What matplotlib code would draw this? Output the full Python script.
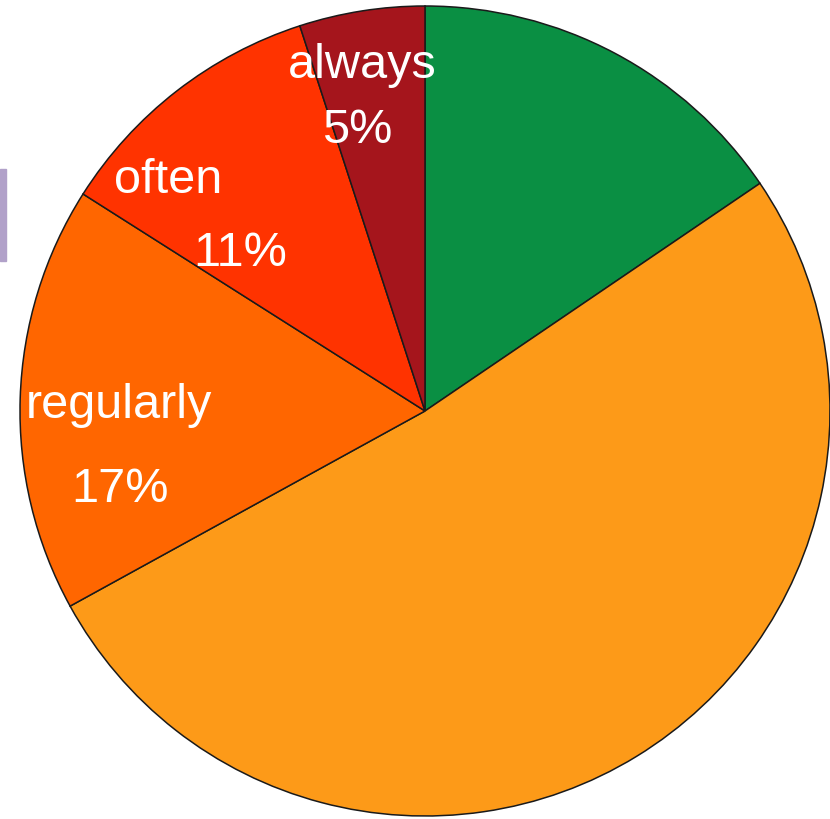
import matplotlib.pyplot as plt
from matplotlib.patches import Rectangle
import numpy as np

# Share of answers per frequency, clockwise from 12 o'clock
categories = ["never", "sometimes", "regularly", "often", "always"]
shares = [15.5, 51.5, 17, 11, 5]
colors = ["#0A8F43", "#FD9A18", "#FF6600", "#FF3300", "#A5151C"]

# Labelled slices: name, percent text
label_names = ["regularly", "often", "always"]
label_pcts = ["17%", "11%", "5%"]

# Label placement as (angle clockwise from top in degrees, fraction of radius)
name_pos = [(271.3, 0.756), (312.0, 0.853), (349.7, 0.869)]
pct_pos = [(255.7, 0.777), (310.7, 0.602), (346.4, 0.714)]

W, H = 830, 820
cx, cy, R = 425, 408, 405

fig = plt.figure(figsize=(W / 100, H / 100), dpi=100)
ax = fig.add_axes([0, 0, 1, 1])

ax.pie(shares, colors=colors, startangle=90, counterclock=False,
       center=(cx, cy), radius=R,
       wedgeprops=dict(edgecolor="#1a1a1a", linewidth=1.1))

ax.set_xlim(0, W)
ax.set_ylim(0, H)
ax.set_aspect("equal")
ax.axis("off")


def polar(angle, frac):
    a = np.deg2rad(angle)
    return cx + frac * R * np.sin(a), cy + frac * R * np.cos(a)


text_style = dict(color="white", fontsize=35, ha="center", va="center",
                  family=["Liberation Sans", "DejaVu Sans"])
for name, pct, npos, ppos in zip(label_names, label_pcts, name_pos, pct_pos):
    ax.text(*polar(*npos), name, **text_style)
    ax.text(*polar(*ppos), pct, **text_style)

# Edge of the legend box peeking in on the left
fig.patches.append(Rectangle((0, 1 - 262 / H), 6 / W, 92 / H,
                             transform=fig.transFigure, color="#B1A1C9"))

fig.savefig("out.png", dpi=100)
